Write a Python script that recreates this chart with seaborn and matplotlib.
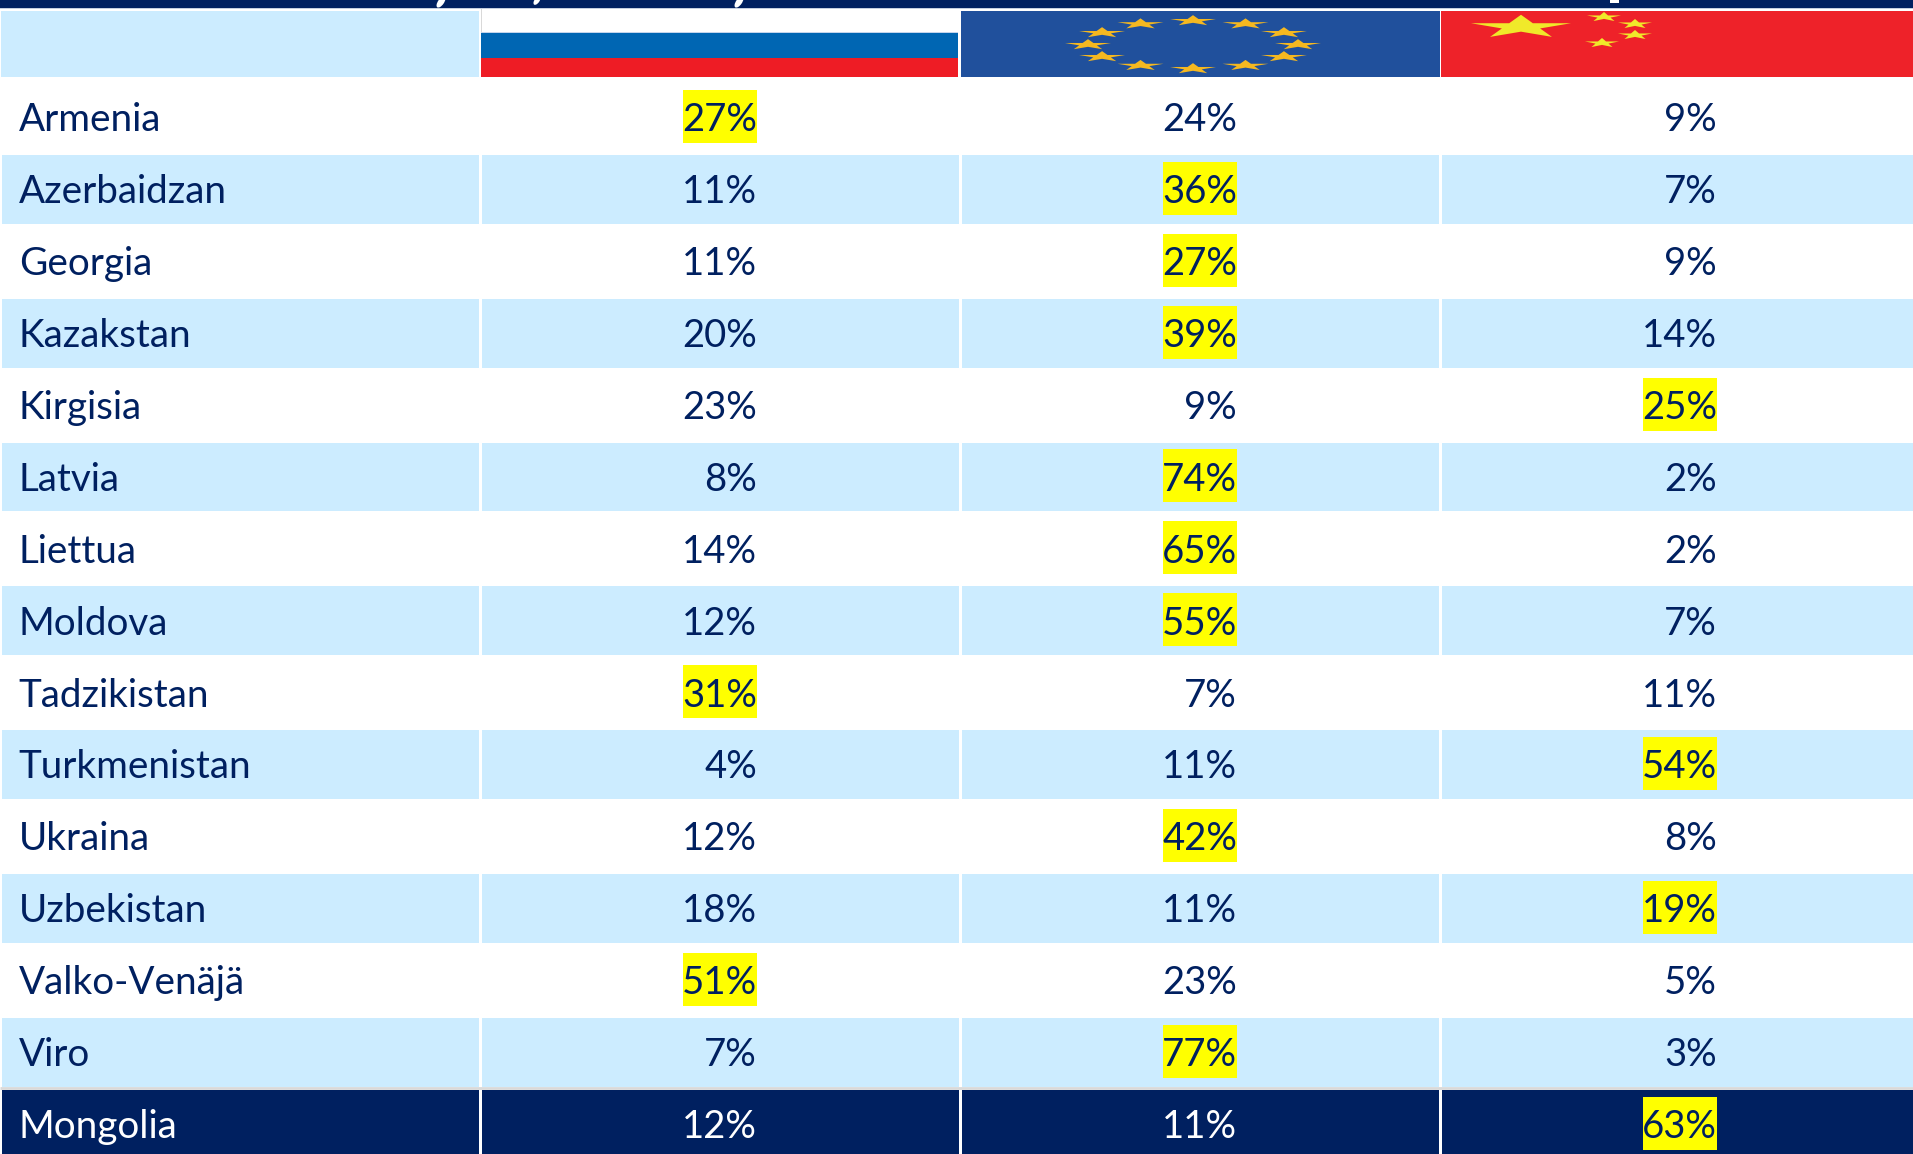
import numpy as np
import pandas as pd
import matplotlib
matplotlib.use('Agg')
import matplotlib.pyplot as plt
import seaborn as sns
from matplotlib.colors import ListedColormap
from matplotlib.patches import Ellipse, Polygon, Rectangle

# Table values
countries = ['Armenia', 'Azerbaidzan', 'Georgia', 'Kazakstan', 'Kirgisia', 'Latvia', 'Liettua', 'Moldova',
             'Tadzikistan', 'Turkmenistan', 'Ukraina', 'Uzbekistan', 'Valko-Venäjä', 'Viro', 'Mongolia']
russia = [27, 11, 11, 20, 23, 8, 14, 12, 31, 4, 12, 18, 51, 7, 12]
eu = [24, 36, 27, 39, 9, 74, 65, 55, 7, 11, 42, 11, 23, 77, 11]
china = [9, 7, 9, 14, 25, 2, 2, 7, 11, 54, 8, 19, 5, 3, 63]

NAVY = '#002060'
BAND = '#CCECFF'
YELLOW = '#FFFF00'
W, H = 1913, 1154
ROW_H = 71.9
COL_W = 480
TOP = 81

df = pd.DataFrame({'Venäjä': russia, 'EU': eu, 'Kiina': china}, index=countries)

# 0 = white row, 1 = light blue row, 2 = navy last row
kinds = np.array([i % 2 for i in range(len(countries))])
kinds[-1] = 2
cell_kind = np.tile(kinds[:, None], (1, 4))

plt.rcParams['font.family'] = ['Lato', 'DejaVu Sans']
fig = plt.figure(figsize=(W / 100, H / 100), dpi=100)
fig.patch.set_facecolor('white')

ax = fig.add_axes([0, (H - TOP - ROW_H * len(countries)) / H, COL_W * 4 / W, ROW_H * len(countries) / H])
sns.heatmap(cell_kind, cmap=ListedColormap(['white', BAND, NAVY]), vmin=0, vmax=2, cbar=False,
            linewidths=2, linecolor='white', xticklabels=False, yticklabels=False, ax=ax)
ax.hlines(len(countries) - 1, 0, 4, color='#D9D9D9', lw=2)

for i, name in enumerate(countries):
    txt_color = 'white' if kinds[i] == 2 else NAVY
    y = i + 0.70
    ax.text(0.039, y, name, color=txt_color, fontsize=27.8, ha='left', va='baseline')
    row = df.iloc[i].values
    best = row.argmax()
    for j, v in enumerate(row):
        c = txt_color
        if j == best:
            ax.add_patch(Rectangle((j + 1.423, i + 0.125), 0.154, 0.736, color=YELLOW, lw=0, zorder=3))
            c = NAVY
        ax.text(j + 1.577, y, f'{v}%', color=c, fontsize=27.5, ha='right', va='baseline', zorder=4)


def star(hx, cx, cy, w, h, color):
    ang = np.pi / 2 + np.arange(10) * np.pi / 5
    r = np.where(np.arange(10) % 2 == 0, 1.0, 0.382)
    pts = np.c_[cx + r * np.cos(ang) * w / 1.9, cy - r * np.sin(ang) * h / 1.8]
    hx.add_patch(Polygon(pts, closed=True, color=color, lw=0))


# Header strip with the flags, in pixels
hx = fig.add_axes([0, 0, 1, 1], facecolor='none')
hx.set_xlim(0, W)
hx.set_ylim(H, 0)
hx.axis('off')
hx.add_patch(Rectangle((0, 0), W, 8, color=NAVY, lw=0))
# bits of the cut off title above the table
for cx, cy, ew, eh in [(441, 2, 6, 13), (537, 0.5, 5, 10), (739, 2, 6, 13)]:
    hx.add_patch(Ellipse((cx, cy), ew, eh, angle=35, color='white', lw=0))
hx.add_patch(Rectangle((1610, 0), 9, 3, color='white', lw=0))
hx.add_patch(Rectangle((0, 8), W, 1, color='#C5CEDF', lw=0))
hx.add_patch(Rectangle((1, 11), 478, 66, color=BAND, lw=0))
hx.add_patch(Rectangle((481, 9), 477, 23, color='white', lw=0))
hx.add_patch(Rectangle((481, 9), 1, 24, color='#D9D9D9', lw=0))
hx.add_patch(Rectangle((481, 32), 477, 1, color='#C5D5EC', lw=0))
hx.add_patch(Rectangle((481, 33), 477, 25, color='#0066B3', lw=0))
hx.add_patch(Rectangle((481, 58), 477, 19, color='#EE1C25', lw=0))
hx.add_patch(Rectangle((961, 11), 478.5, 66, color='#20509C', lw=0))
hx.add_patch(Rectangle((1441, 11), 472, 66, color='#EE2229', lw=0))

for k in range(12):
    a = np.radians(90 - 30 * k)
    star(hx, 1193 + 105 * np.cos(a), 44.7 - 24 * np.sin(a), 46, 10, '#F5B820')

star(hx, 1521, 27, 100, 22, '#F0E92A')
for cx, cy in [(1604, 17), (1635, 24), (1635, 35), (1602, 43)]:
    star(hx, cx, cy, 34, 9, '#F0E92A')

fig.savefig('out.png', dpi=100)
